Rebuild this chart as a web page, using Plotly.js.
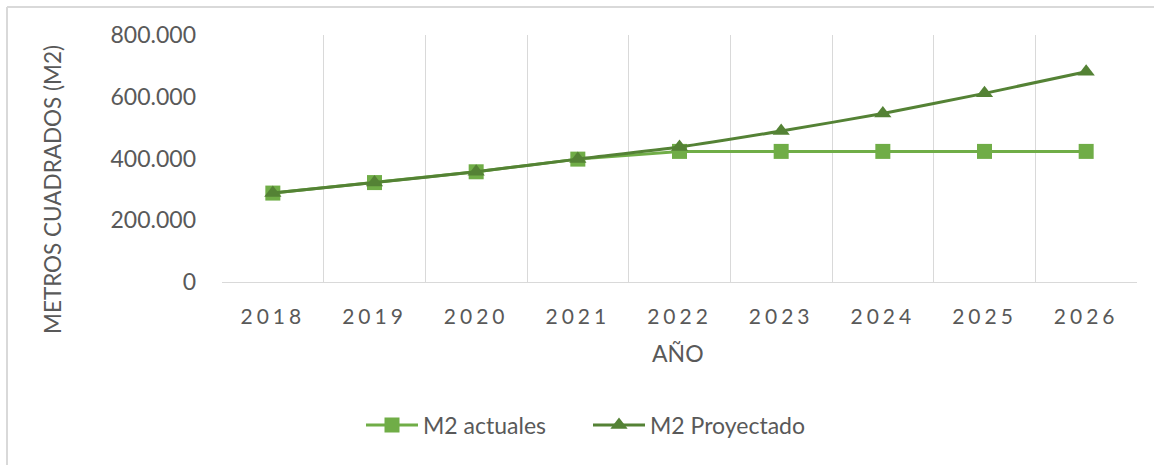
<!DOCTYPE html>
<html>
<head>
<meta charset="utf-8">
<script src="https://cdn.plot.ly/plotly-3.0.1.min.js"></script>
<style>
  html, body { margin: 0; padding: 0; background: #ffffff; }
  #chart { width: 1154px; height: 465px; }
  .xtick text { letter-spacing: 4px; }
</style>
</head>
<body>
<div id="chart"></div>
<script>
// ---- Data ----
const years = ["2018", "2019", "2020", "2021", "2022", "2023", "2024", "2025", "2026"];
const m2Actuales = [288000, 322000, 357000, 398000, 423000, 423000, 423000, 423000, 423000];
const m2Proyectado = [288000, 322000, 357000, 398000, 437000, 489000, 546000, 611000, 681000];
const seriesNames = ["M2 actuales", "M2 Proyectado"];
const yTickVals = [0, 200000, 400000, 600000, 800000];
const xTitle = "AÑO";
const yTitle = "METROS CUADRADOS (M2)";

// ---- Layout geometry ----
const W = 1154, H = 465;
const M = { l: 222, r: 17, t: 35, b: 183 };
const PW = W - M.l - M.r, PH = H - M.t - M.b;
const px = x => (x - M.l) / PW;
const py = y => (H - M.b - y) / PH;

const textColor = "#595959";
const gridColor = "#d9d9d9";
const fontFam = "Lato, 'Open Sans', sans-serif";

const traces = [
  {
    x: years, y: m2Actuales, name: seriesNames[0],
    type: "scatter", mode: "lines+markers",
    line: { color: "#70AD47", width: 3 },
    marker: { symbol: "square", size: 15, color: "#70AD47" }
  },
  {
    x: years, y: m2Proyectado, name: seriesNames[1],
    type: "scatter", mode: "lines+markers",
    line: { color: "#548235", width: 3, shape: "spline", smoothing: 0.6 },
    marker: { symbol: "triangle-up", size: 15, color: "#548235" }
  }
];

const layout = {
  width: W, height: H,
  margin: M,
  paper_bgcolor: "#ffffff",
  plot_bgcolor: "#ffffff",
  separators: ",.",
  font: { family: fontFam, color: textColor, size: 21 },
  showlegend: true,
  legend: {
    orientation: "h",
    x: px(588), xanchor: "center",
    y: py(425), yanchor: "middle",
    font: { family: fontFam, color: textColor, size: 23 },
    itemwidth: 52,
    entrywidth: 160,
    entrywidthmode: "pixels",
    traceorder: "normal"
  },
  xaxis: {
    type: "category",
    range: [-0.5, years.length - 0.5],
    tickson: "boundaries",
    showgrid: true, gridcolor: gridColor, gridwidth: 1,
    showline: true, linecolor: gridColor, linewidth: 1,
    ticks: "",
    ticklabelstandoff: 16,
    tickfont: { family: fontFam, color: textColor, size: 21 },
    zeroline: false,
    fixedrange: true
  },
  yaxis: {
    range: [0, 800000],
    tickvals: yTickVals,
    tickformat: ",d",
    showgrid: false,
    showline: false,
    zeroline: false,
    ticks: "",
    ticklabelstandoff: 25,
    tickfont: { family: fontFam, color: textColor, size: 23 },
    fixedrange: true
  },
  annotations: [
    {
      text: yTitle, textangle: -90,
      xref: "paper", yref: "paper",
      x: px(52), y: py(190), xanchor: "center", yanchor: "middle",
      showarrow: false,
      font: { family: fontFam, color: textColor, size: 22.5 }
    },
    {
      text: xTitle,
      xref: "paper", yref: "paper",
      x: px(678), y: py(353), xanchor: "center", yanchor: "middle",
      showarrow: false,
      font: { family: fontFam, color: textColor, size: 23 }
    }
  ],
  shapes: [
    { type: "line", xref: "paper", yref: "paper",
      x0: px(7), x1: px(W), y0: py(7), y1: py(7),
      line: { color: gridColor, width: 2 } },
    { type: "line", xref: "paper", yref: "paper",
      x0: px(7), x1: px(7), y0: py(7), y1: py(H),
      line: { color: gridColor, width: 2 } }
  ]
};

Plotly.newPlot("chart", traces, layout, { displayModeBar: false, staticPlot: true });
</script>
</body>
</html>
